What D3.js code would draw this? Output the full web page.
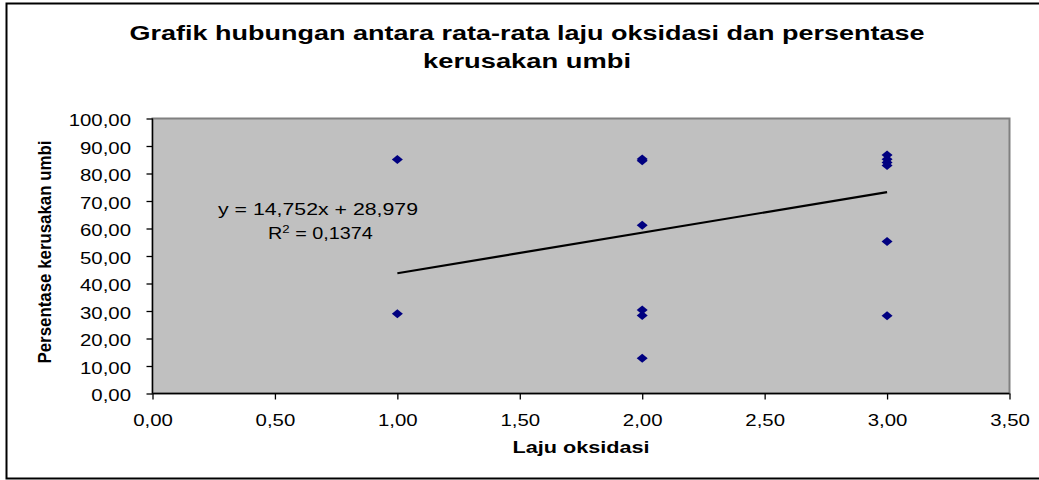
<!DOCTYPE html>
<html><head><meta charset="utf-8">
<script src="https://cdn.jsdelivr.net/npm/d3@7"></script>
<style>body{margin:0;background:#fff}svg{display:block;font-family:"Liberation Sans",Arial,sans-serif}</style>
</head><body><svg id="c" width="1039" height="480"></svg>
<script>
const titleLines = ["Grafik hubungan antara rata-rata laju oksidasi dan persentase", "kerusakan umbi"];
const xLabel = "Laju oksidasi";
const yLabel = "Persentase kerusakan umbi";
const xValues = [1, 1, 2, 2, 2, 2, 2, 2, 3, 3, 3, 3, 3, 3];
const yValues = [85.1, 29.0, 85.3, 84.6, 61.2, 30.4, 28.4, 12.8, 86.7, 85.2, 84.0, 82.9, 55.3, 28.3];
const xTicks = [0, 0.5, 1, 1.5, 2, 2.5, 3, 3.5];
const yTicks = [0, 10, 20, 30, 40, 50, 60, 70, 80, 90, 100];
const trendSlope = 14.752, trendIntercept = 28.979;
const trendRange = [1, 3];
const eqLines = ["y = 14,752x + 28,979", "R² = 0,1374"];

const svg = d3.select("#c");
const fmt = v => v.toFixed(2).replace(".", ",");
const x = d3.scaleLinear().domain([0, 3.5]).range([152.5, 1009.5]);
const y = d3.scaleLinear().domain([0, 100]).range([393.5, 118.5]);
const SX = 1.2;

// outer frame
svg.append("rect").attr("x", 6.5).attr("y", 3.5).attr("width", 1040).attr("height", 475)
  .attr("fill", "#fff").attr("stroke", "#000").attr("stroke-width", 2);

// plot area
svg.append("rect").attr("x", x(0)).attr("y", y(100)).attr("width", x(3.5) - x(0)).attr("height", y(0) - y(100))
  .attr("fill", "#c0c0c0").attr("stroke", "#808080").attr("stroke-width", 2);

// axes
const yAxis = svg.append("g").attr("transform", `translate(${x(0)},0)`)
  .call(d3.axisLeft(y).tickValues(yTicks).tickFormat(fmt).tickSize(6));
const xAxis = svg.append("g").attr("transform", `translate(0,${y(0)})`)
  .call(d3.axisBottom(x).tickValues(xTicks).tickFormat(fmt).tickSize(6));
[yAxis, xAxis].forEach(g => {
  g.select(".domain").attr("stroke", "#000").attr("stroke-width", 1.3);
  g.selectAll(".tick line").attr("stroke", "#000").attr("stroke-width", 1.3);
  g.selectAll("text").attr("fill", "#000").style("font-size", "17px")
    .style("font-family", "'Liberation Sans', Arial, sans-serif");
});
yAxis.selectAll(".tick text").attr("x", -21.5 / SX).attr("dy", "0.42em").attr("transform", `scale(${SX},1)`);
xAxis.selectAll(".tick text").attr("x", 0).attr("y", 32.5).attr("dy", 0).attr("transform", `scale(${SX},1)`);
xAxis.select(".domain").attr("d", `M${x(0)},0H${x(3.5)}`);
yAxis.select(".domain").attr("d", `M0,${y(0)}V${y(100)}`);

// trend line
svg.append("line")
  .attr("x1", x(trendRange[0])).attr("y1", y(trendSlope * trendRange[0] + trendIntercept))
  .attr("x2", x(trendRange[1])).attr("y2", y(trendSlope * trendRange[1] + trendIntercept))
  .attr("stroke", "#000").attr("stroke-width", 2.2);

// points
const diamond = "M0,-4.5L5.5,0L0,4.5L-5.5,0Z";
svg.append("g").selectAll("path").data(xValues.map((v, i) => [v, yValues[i]])).join("path")
  .attr("d", diamond).attr("transform", d => `translate(${x(d[0])},${y(d[1])})`)
  .attr("fill", "#000080");

// title
const titleLen = [795, 208];
svg.append("g").selectAll("text").data(titleLines).join("text")
  .attr("x", 527).attr("y", (d, i) => 40 + i * 28).attr("text-anchor", "middle")
  .attr("textLength", (d, i) => titleLen[i]).attr("lengthAdjust", "spacingAndGlyphs")
  .style("font-size", "19.5px").style("font-weight", "bold").text(d => d);

// equation
svg.append("text").attr("x", 318).attr("y", 215).attr("text-anchor", "middle")
  .attr("textLength", 200).attr("lengthAdjust", "spacingAndGlyphs")
  .style("font-size", "16.5px").text(eqLines[0]);
const r2 = svg.append("text").attr("x", 268).attr("y", 239)
  .style("font-size", "16.5px").attr("transform", `translate(268,0) scale(${SX},1) translate(-268,0)`);
r2.append("tspan").text("R");
r2.append("tspan").attr("dy", -6).style("font-size", "11px").text("2");
r2.append("tspan").attr("dy", 6).text(" = 0,1374");

// axis labels
svg.append("text").attr("x", 581).attr("y", 453).attr("text-anchor", "middle")
  .attr("textLength", 137).attr("lengthAdjust", "spacingAndGlyphs")
  .style("font-size", "16px").style("font-weight", "bold").text(xLabel);
svg.append("text").attr("transform", "translate(51,252) rotate(-90)").attr("text-anchor", "middle")
  .attr("textLength", 223).attr("lengthAdjust", "spacingAndGlyphs")
  .style("font-size", "17.5px").style("font-weight", "bold").text(yLabel);
</script></body></html>
